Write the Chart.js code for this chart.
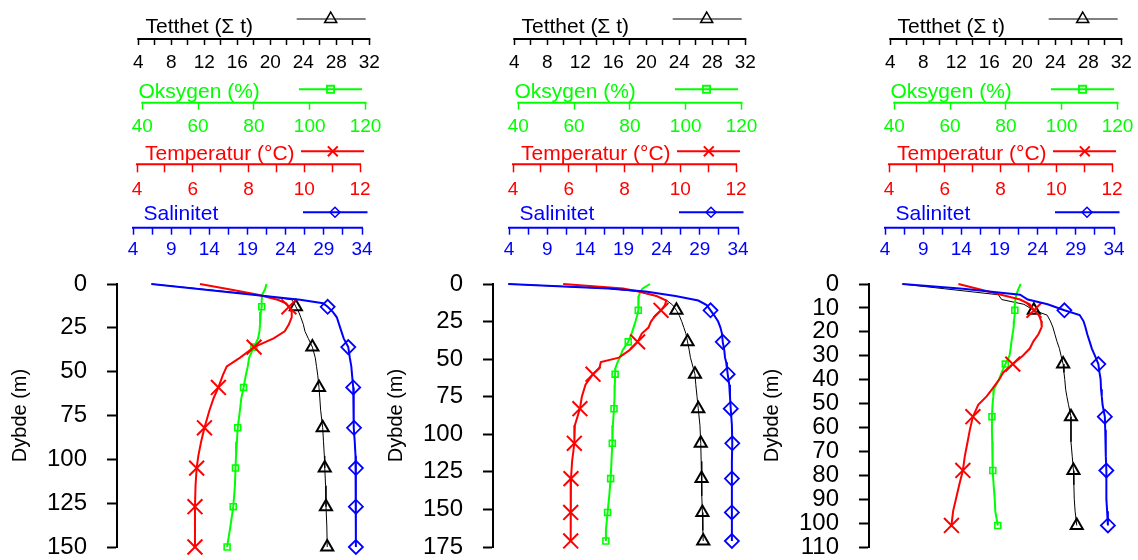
<!DOCTYPE html>
<html><head><meta charset="utf-8">
<script src="https://cdn.jsdelivr.net/npm/chart.js@4.4.1/dist/chart.umd.min.js"></script>
<style>
html,body{margin:0;padding:0;background:#fff;}
#wrap{position:relative;width:1138px;height:560px;overflow:hidden;background:#fff;}
canvas{position:absolute;top:0;}
</style></head>
<body><div id="wrap">
<canvas id="c1" width="386" height="560" style="left:0px"></canvas>
<canvas id="c2" width="386" height="560" style="left:376px"></canvas>
<canvas id="c3" width="386" height="560" style="left:752px"></canvas>
</div>
<script>
// ---- tick values / labels of the four top axes ----
const TETT_TICKS = [4,6,8,10,12,14,16,18,20,22,24,26,28,30,32];
const TETT_LABELS = [4,8,12,16,20,24,28,32];
const OXY_TICKS = [40,60,80,100,120];
const OXY_LABELS = [40,60,80,100,120];
const TEMP_TICKS = [4,5,6,7,8,9,10,11,12];
const TEMP_LABELS = [4,6,8,10,12];
const SAL_TICKS = [4,6.5,9,11.5,14,16.5,19,21.5,24,26.5,29,31.5,34];
const SAL_LABELS = [4,9,14,19,24,29,34];

// ---- series names ----
const NAME_TETT = 'Tetthet (\u03A3 t)';
const NAME_OXY = 'Oksygen (%)';
const NAME_TEMP = 'Temperatur (\u00B0C)';
const NAME_SAL = 'Salinitet';
const DEPTH_TITLE = 'Dybde (m)';

// ---- panel 1 ----
const P1_DEPTH = [0,3,6,9,11,13,16,19,23,27,31,36,42,47,52,59,65,72,82,90,98,105,115,127,138,150];
const P1_SAL  = [6.4,12.9,19.4,25.9,28.9,29.5,30.2,30.7,31.0,31.3,31.6,32.2,32.4,32.6,32.7,32.85,32.9,32.9,32.95,33.05,33.15,33.2,33.2,33.2,33.2,33.2];
const P1_DENS = [5.6,11.9,18.2,22.6,22.9,23.1,23.45,23.7,24.0,24.2,24.6,25.1,25.45,25.6,25.75,25.9,26.0,26.1,26.35,26.45,26.55,26.6,26.7,26.75,26.85,26.9];
const P1_TEMP = [6.26,7.3,8.3,9.05,9.35,9.45,9.55,9.55,9.45,9.3,8.9,8.2,7.7,7.22,7.08,6.92,6.75,6.6,6.42,6.3,6.2,6.14,6.1,6.08,6.08,6.08];
const P1_OXY  = [84.5,84.0,83.0,82.8,82.8,82.8,82.5,82.2,82.2,82.0,81.5,80.0,78.3,77.8,77.1,76.3,75.5,75.0,74.2,73.9,73.6,73.4,73.2,72.6,71.6,70.4];
const P1_MARKS = [13,36,59,82,105,127,150];
const P1_YMAX = 150, P1_YSTEP = 25;

// ---- panel 2 ----
const P2_DEPTH = [0,3,5,8,11,14,17.5,21,25,29,33,38.5,44,49,52,56,60,67,75,83,94,106,118,129.5,141,152,164,171];
const P2_SAL  = [3.9,17.0,21.9,25.8,28.8,29.9,30.4,30.9,31.4,31.7,31.9,32.0,32.2,32.3,32.45,32.55,32.65,32.85,32.95,33.05,33.2,33.25,33.2,33.2,33.2,33.2,33.2,33.2];
const P2_DENS = [3.3,15.4,19.0,21.2,22.5,23.2,23.65,24.0,24.3,24.55,24.8,25.0,25.2,25.35,25.5,25.7,25.9,26.0,26.15,26.3,26.5,26.6,26.65,26.7,26.75,26.8,26.85,26.9];
const P2_TEMP = [5.8,7.95,8.5,9.15,9.5,9.45,9.31,9.1,8.95,8.86,8.62,8.47,8.18,7.8,7.15,7.1,6.87,6.6,6.47,6.4,6.22,6.2,6.12,6.08,6.07,6.07,6.07,6.07];
const P2_OXY  = [87.2,84.6,83.8,83.2,83.1,83.0,83.0,82.6,82.0,81.3,80.6,79.4,77.4,76.4,75.6,74.8,74.7,74.6,74.5,74.3,73.9,73.7,73.4,73.1,72.6,72.0,71.4,71.4];
const P2_MARKS = [17.5,38.5,60,83,106,129.5,152,171];
const P2_YMAX = 175, P2_YSTEP = 25;

// ---- panel 3 ----
const P3_DEPTH = [0,2,4.5,6.5,8.5,11,13,15.5,18,21,24,27,30,33.5,37,40,44,47,50.5,55.5,61,66,72,78,84,90,95,101];
const P3_SAL  = [6.3,14.2,21.7,22.7,25.3,27.5,29.5,30.0,30.25,30.5,30.8,31.1,31.5,31.95,32.1,32.25,32.3,32.4,32.5,32.8,32.85,32.9,32.95,33.0,33.0,33.0,33.1,33.2];
const P3_DENS = [5.4,10.6,17.1,17.5,20.2,21.4,23.0,23.4,23.7,23.95,24.2,24.5,24.7,24.95,25.05,25.15,25.25,25.4,25.6,25.9,25.9,25.9,26.05,26.2,26.25,26.3,26.4,26.6];
const P3_TEMP = [6.49,7.17,8.02,8.7,9.05,9.2,9.38,9.46,9.48,9.36,9.18,9.05,8.8,8.44,8.1,7.95,7.7,7.5,7.2,7.01,6.9,6.82,6.72,6.65,6.52,6.4,6.3,6.24];
const P3_OXY  = [85.3,84.5,83.7,83.4,83.2,83.2,83.1,82.9,82.8,82.4,82.0,81.7,81.3,79.8,78.5,77.5,75.7,75.5,75.2,75.0,75.0,75.1,75.2,75.3,75.6,76.0,76.2,77.1];
const P3_MARKS = [11,33.5,55.5,78,101];
const P3_YMAX = 110, P3_YSTEP = 10;

// ---- layout / style ----
Chart.defaults.font.family = "'Liberation Sans', Arial, sans-serif";
const FONT = "'Liberation Sans', Arial, sans-serif";
const CW = 386, AREA_L = 117, AREA_R = 372;
const GREEN = '#00FF00', RED = '#FF0000', BLUE = '#0000FF', BLACK = '#000000';

const AXES = [
  {id:'tett', ticks:TETT_TICKS, labels:TETT_LABELS, color:BLACK, px:[138.3,369.3], weight:4, height:39,   pad:12, tl:-6,
   title:NAME_TETT, tx:145.5, ty:33,  legY:19,    legX:[296.7,365.7], legM:330.7, style:'triangle', legR:7, lw:1, mw:1.5},
  {id:'oxy',  ticks:OXY_TICKS,  labels:OXY_LABELS,  color:GREEN, px:[142.3,365.5], weight:3, height:63.7, pad:13, tl:-7,
   title:NAME_OXY,  tx:138.5, ty:97.5, legY:89.3, legX:[299,362],     legM:330.5, style:'rect',     legR:5, lw:2, mw:1.8},
  {id:'temp', ticks:TEMP_TICKS, labels:TEMP_LABELS, color:RED,   px:[137,360],     weight:2, height:61.6, pad:14, tl:-8,
   title:NAME_TEMP, tx:145,   ty:160,  legY:151.3, legX:[301,364],    legM:332.8, style:'crossRot', legR:7, lw:2, mw:2},
  {id:'sal',  ticks:SAL_TICKS,  labels:SAL_LABELS,  color:BLUE,  px:[133,362],     weight:1, height:63.4, pad:11, tl:-7,
   title:NAME_SAL,  tx:143.5, ty:220,  legY:212.2, legX:[303,367.5],  legM:335,   style:'rectRot',  legR:5, lw:2, mw:1.5}
];
const GAP_HEIGHT = 56.3;

function axisRange(a) {
  const v0 = a.ticks[0], v1 = a.ticks[a.ticks.length - 1];
  const k = (v1 - v0) / (a.px[1] - a.px[0]);
  return {min: v0 - (a.px[0] - AREA_L) * k, max: v1 + (AREA_R - a.px[1]) * k};
}
function noPad(s) { s.paddingTop = 0; s.paddingBottom = 0; s.paddingLeft = 0; s.paddingRight = 0; }

const decor = {
  id: 'decor',
  afterDraw(chart) {
    const ctx = chart.ctx;
    AXES.forEach(a => {
      const s = chart.scales[a.id];
      const y = s.bottom;
      const x0 = s.getPixelForValue(a.ticks[0]);
      const x1 = s.getPixelForValue(a.ticks[a.ticks.length - 1]);
      ctx.save();
      ctx.strokeStyle = a.color;
      ctx.fillStyle = a.color;
      ctx.lineWidth = 2;
      ctx.beginPath(); ctx.moveTo(x0 - 1, y); ctx.lineTo(x1 + 1, y); ctx.stroke();
      ctx.font = '21px ' + FONT;
      ctx.textAlign = 'left';
      ctx.textBaseline = 'alphabetic';
      ctx.fillText(a.title, a.tx, a.ty);
      ctx.lineWidth = a.lw;
      ctx.beginPath(); ctx.moveTo(a.legX[0], a.legY); ctx.lineTo(a.legX[1], a.legY); ctx.stroke();
      ctx.lineWidth = a.mw;
      ctx.fillStyle = 'rgba(0,0,0,0)';
      Chart.helpers.drawPoint(ctx, {pointStyle: a.style, radius: a.legR, rotation: 0, borderWidth: a.mw}, a.legM, a.legY);
      ctx.restore();
    });
  }
};

function pts(depth, vals) { return depth.map((d, i) => ({x: vals[i], y: d})); }

function makeDataset(label, axisId, depth, vals, marks, color, lw, style, r, bw) {
  return {
    label, xAxisID: axisId, yAxisID: 'y',
    data: pts(depth, vals),
    showLine: true, tension: 0, fill: false, clip: false,
    borderColor: color, borderWidth: lw,
    pointStyle: style,
    pointRadius: c => marks.includes(depth[c.dataIndex]) ? r : 0,
    pointHoverRadius: 0,
    pointBorderColor: color, pointBorderWidth: bw,
    pointBackgroundColor: 'rgba(0,0,0,0)'
  };
}

function makeChart(id, depth, sal, temp, oxy, dens, marks, ymax, ystep) {
  const scales = {};
  AXES.forEach(a => {
    const rg = axisRange(a);
    scales[a.id] = {
      type: 'linear', axis: 'x', position: 'top', weight: a.weight,
      min: rg.min, max: rg.max,
      afterBuildTicks: s => { s.ticks = a.ticks.map(v => ({value: v})); },
      afterFit: s => { s.height = a.height; noPad(s); },
      border: {display: false},
      grid: {display: true, drawOnChartArea: false, drawTicks: true, tickLength: a.tl, tickColor: a.color, tickWidth: 1.5},
      ticks: {mirror: true, padding: a.pad, color: a.color, font: {size: 19}, autoSkip: false, maxRotation: 0, minRotation: 0,
              callback: v => a.labels.includes(v) ? String(v) : ''},
      title: {display: false}
    };
  });
  scales.gap = {
    type: 'linear', axis: 'x', position: 'top', weight: 0, min: 0, max: 1,
    afterFit: s => { s.height = GAP_HEIGHT; noPad(s); },
    border: {display: false}, grid: {display: false}, ticks: {display: false}
  };
  scales.y = {
    type: 'linear', position: 'left', reverse: true, min: 0, max: ymax,
    afterFit: s => { s.width = AREA_L; noPad(s); },
    border: {display: true, color: BLACK, width: 2},
    grid: {display: true, drawOnChartArea: false, drawTicks: true, tickLength: 10, tickColor: BLACK, tickWidth: 2},
    ticks: {stepSize: ystep, color: BLACK, font: {size: 24}, padding: 20, autoSkip: false},
    title: {display: true, text: DEPTH_TITLE, color: BLACK, font: {size: 20}, padding: {top: 8, bottom: 0}}
  };
  return new Chart(document.getElementById(id), {
    type: 'scatter',
    data: {datasets: [
      makeDataset(NAME_SAL,  'sal',  depth, sal,  marks, BLUE,  2, 'rectRot',  7,   1.8),
      makeDataset(NAME_TEMP, 'temp', depth, temp, marks, RED,   2, 'crossRot', 10.5, 2),
      makeDataset(NAME_OXY,  'oxy',  depth, oxy,  marks, GREEN, 2, 'rect',     4.2, 1.6),
      makeDataset(NAME_TETT, 'tett', depth, dens, marks, BLACK, 1, 'triangle', 7,   2)
    ]},
    options: {
      responsive: false, animation: false, devicePixelRatio: 1,
      layout: {autoPadding: false, padding: {top: 0, left: 0, bottom: 13, right: CW - AREA_R}},
      plugins: {legend: {display: false}, tooltip: {enabled: false}},
      events: [],
      scales
    },
    plugins: [decor]
  });
}

makeChart('c1', P1_DEPTH, P1_SAL, P1_TEMP, P1_OXY, P1_DENS, P1_MARKS, P1_YMAX, P1_YSTEP);
makeChart('c2', P2_DEPTH, P2_SAL, P2_TEMP, P2_OXY, P2_DENS, P2_MARKS, P2_YMAX, P2_YSTEP);
makeChart('c3', P3_DEPTH, P3_SAL, P3_TEMP, P3_OXY, P3_DENS, P3_MARKS, P3_YMAX, P3_YSTEP);
</script>
</body></html>
